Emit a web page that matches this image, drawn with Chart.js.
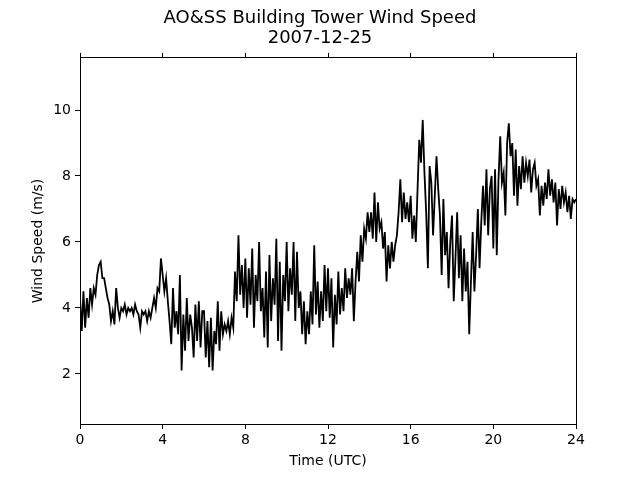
<!DOCTYPE html>
<html>
<head>
<meta charset="utf-8">
<script src="https://cdn.jsdelivr.net/npm/chart.js@4"></script>
<style>
  html, body { margin: 0; padding: 0; background: #fff; }
  #wrap { width: 640px; height: 480px; }
</style>
</head>
<body>
<div id="wrap"><canvas id="myChart" width="640" height="480"></canvas></div>
<script>
// wind speed (m/s), one reading every 5 minutes, 00:00 to 24:00 UTC
const sampleMinutes = 5;
const windSpeed = [
    4.3, 3.3, 4.5, 3.4, 4.3, 3.7, 4.6, 4.1, 4.6, 4.4, 5.0, 5.3,
    5.4, 4.9, 4.9, 4.6, 4.3, 4.1, 3.6, 3.9, 3.5, 4.6, 4.0, 3.7,
    4.0, 3.9, 4.1, 3.8, 4.0, 3.9, 4.0, 3.8, 4.1, 3.9, 3.8, 3.4,
    3.9, 3.8, 3.9, 3.6, 3.9, 3.7, 4.0, 4.3, 4.0, 4.6, 4.5, 5.5,
    5.0, 4.5, 4.9, 4.2, 3.6, 2.9, 4.6, 3.4, 3.9, 3.2, 5.0, 2.1,
    3.8, 2.7, 4.3, 3.0, 3.8, 3.4, 2.5, 4.1, 3.0, 4.2, 2.8, 3.9,
    3.9, 2.5, 3.6, 2.2, 3.7, 2.1, 3.3, 2.9, 4.2, 2.7, 3.9, 3.2,
    3.5, 3.3, 3.6, 3.2, 3.7, 3.4, 5.1, 4.2, 6.2, 4.4, 5.3, 4.0,
    5.5, 3.7, 5.2, 4.1, 5.8, 3.4, 5.0, 4.2, 6.0, 3.9, 4.6, 3.1,
    5.1, 2.8, 5.6, 3.6, 4.9, 4.1, 6.1, 3.0, 5.4, 2.7, 5.0, 4.2,
    6.0, 3.9, 5.2, 4.4, 6.0, 3.6, 5.7, 4.0, 4.5, 3.2, 4.2, 2.9,
    3.9, 3.2, 4.5, 3.5, 5.9, 3.8, 4.8, 3.4, 4.5, 3.6, 5.3, 3.9,
    5.2, 3.7, 4.9, 2.8, 4.4, 3.5, 5.1, 3.8, 4.6, 3.9, 5.2, 4.3,
    4.9, 4.4, 5.2, 3.6, 4.8, 5.7, 4.8, 6.2, 5.4, 6.4, 6.1, 6.9,
    6.3, 6.9, 6.1, 7.5, 6.0, 7.2, 6.4, 6.6, 5.8, 6.3, 4.8, 5.9,
    5.2, 6.0, 5.4, 5.9, 6.2, 6.9, 7.9, 6.6, 7.5, 6.7, 7.2, 6.6,
    7.4, 6.1, 6.8, 6.0, 7.6, 9.1, 8.4, 9.7, 8.1, 6.9, 5.2, 8.3,
    7.8, 6.2, 7.4, 8.6, 7.6, 6.8, 5.0, 7.3, 5.6, 6.3, 4.6, 6.0,
    6.8, 4.2, 5.5, 6.9, 4.9, 6.2, 4.2, 5.8, 4.5, 5.4, 3.2, 4.8,
    6.3, 4.5, 5.6, 7.0, 5.2, 6.6, 7.7, 6.5, 8.2, 6.2, 7.6, 8.0,
    5.8, 8.2, 5.6, 7.9, 9.2, 7.8, 8.1, 6.8, 9.0, 9.6, 8.6, 9.0,
    7.4, 8.8, 7.1, 8.3, 7.6, 8.6, 7.8, 8.4, 8.0, 8.5, 7.5, 8.2,
    8.4, 7.7, 7.9, 6.8, 7.7, 7.1, 7.8, 7.3, 8.2, 7.4, 7.9, 7.2,
    7.8, 6.5, 7.6, 7.0, 7.7, 7.2, 7.5, 6.9, 7.4, 6.7, 7.3, 7.2,
    7.3
];
const xTicks = [0, 4, 8, 12, 16, 20, 24];
const yTicks = [2, 4, 6, 8, 10];
const titleLines = ['AO&SS Building Tower Wind Speed', '2007-12-25'];

const points = windSpeed.map((v, i) => ({ x: i * sampleMinutes / 60, y: v }));

const font = { family: 'DejaVu Sans', size: 14 };

// put tick marks exactly where matplotlib had them
function fixedTicks(list) {
    return function (scale) {
        scale.ticks = list.map(v => ({ value: v }));
    };
}

const ctx = document.getElementById('myChart').getContext('2d');
new Chart(ctx, {
    type: 'line',
    data: {
        datasets: [{
            data: points,
            borderColor: '#000',
            borderWidth: 1.8,
            pointRadius: 0,
            tension: 0,
            fill: false
        }]
    },
    options: {
        responsive: false,
        animation: false,
        events: [],
        layout: { padding: { left: 0, right: 0, top: 0, bottom: 0 } },
        plugins: {
            legend: { display: false },
            tooltip: { enabled: false },
            title: {
                display: true,
                text: titleLines,
                color: '#000',
                font: { family: 'DejaVu Sans', size: 18, weight: 'normal', lineHeight: 1.15 },
                padding: { top: 7.5, bottom: 0 }
            }
        },
        scales: {
            x: {
                type: 'linear',
                position: 'bottom',
                min: 0,
                max: 24,
                afterBuildTicks: fixedTicks(xTicks),
                afterFit: s => { s.height = 56; },
                ticks: { color: '#000', font: font, padding: 3 },
                grid: { drawOnChartArea: false, drawTicks: true, tickLength: 5, color: '#000', lineWidth: 1 },
                border: { display: true, color: '#000', width: 1 },
                title: { display: true, text: 'Time (UTC)', color: '#000', font: font, padding: { top: 0, bottom: 10 } }
            },
            xTop: {
                type: 'linear',
                position: 'top',
                min: 0,
                max: 24,
                afterBuildTicks: fixedTicks(xTicks),
                afterFit: s => { s.height = 9; },
                ticks: { display: false },
                grid: { drawOnChartArea: false, drawTicks: true, tickLength: 5, color: '#000', lineWidth: 1 },
                border: { display: true, color: '#000', width: 1 }
            },
            y: {
                type: 'linear',
                position: 'left',
                min: 0.48,
                max: 11.58,
                afterBuildTicks: fixedTicks(yTicks),
                afterFit: s => { s.width = 80; },
                ticks: { color: '#000', font: font, padding: 4 },
                grid: { drawOnChartArea: false, drawTicks: true, tickLength: 5, color: '#000', lineWidth: 1 },
                border: { display: true, color: '#000', width: 1 },
                title: { display: true, text: 'Wind Speed (m/s)', color: '#000', font: font, padding: { top: 30, bottom: 0 } }
            },
            yRight: {
                type: 'linear',
                position: 'right',
                min: 0.48,
                max: 11.58,
                afterFit: s => { s.width = 64; },
                ticks: { display: false },
                grid: { display: false },
                border: { display: true, color: '#000', width: 1 }
            }
        }
    }
});
</script>
</body>
</html>
